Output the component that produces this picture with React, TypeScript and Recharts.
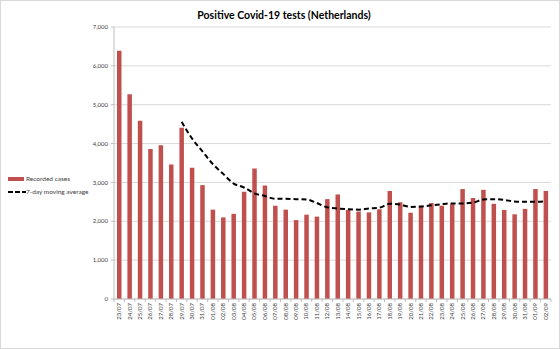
import React from 'react';
import { ComposedChart, Bar, Line, XAxis, YAxis, CartesianGrid } from 'recharts';

const days = [
  '23/07', '24/07', '25/07', '26/07', '27/07', '28/07', '29/07', '30/07', '31/07',
  '01/08', '02/08', '03/08', '04/08', '05/08', '06/08', '07/08', '08/08', '09/08', '10/08',
  '11/08', '12/08', '13/08', '14/08', '15/08', '16/08', '17/08', '18/08', '19/08', '20/08',
  '21/08', '22/08', '23/08', '24/08', '25/08', '26/08', '27/08', '28/08', '29/08', '30/08',
  '31/08', '01/09', '02/09',
];

const recordedCases = [
  6390, 5270, 4590, 3860, 3960, 3460, 4410, 3380, 2930,
  2300, 2100, 2190, 2760, 3360, 2920, 2400, 2300, 2030, 2170,
  2120, 2570, 2690, 2290, 2250, 2230, 2310, 2780, 2490, 2220,
  2400, 2470, 2400, 2440, 2830, 2600, 2810, 2450, 2290, 2180,
  2320, 2830, 2780,
];

const movingAverage = [
  null, null, null, null, null, null, 4560, 4130, 3800,
  3470, 3220, 2970, 2870, 2720, 2650, 2580, 2580, 2570, 2560,
  2470, 2360, 2330, 2310, 2300, 2330, 2350, 2450, 2430, 2370,
  2380, 2410, 2440, 2460, 2460, 2480, 2560, 2570, 2550, 2510,
  2500, 2500, 2520,
];

const yTicks = [0, 1000, 2000, 3000, 4000, 5000, 6000, 7000];

const data = days.map((d, i) => ({
  day: d,
  cases: recordedCases[i],
  avg: movingAverage[i],
}));

const FONT = 'Lato, "Liberation Sans", sans-serif';
const HALF = 5.2;

function DayTick(props: any) {
  const { x, y, payload, index } = props;
  return (
    <g>
      <line x1={x - HALF} x2={x - HALF} y1={y} y2={y + 3} stroke="#bfbfbf" />
      {index === days.length - 1 && (
        <line x1={x + HALF} x2={x + HALF} y1={y} y2={y + 3} stroke="#bfbfbf" />
      )}
      <text
        x={x + 2}
        y={y + 4}
        transform={`rotate(-90, ${x + 2}, ${y + 4})`}
        textAnchor="end"
        fontSize={6}
        fill="#404040"
        fontFamily={FONT}
      >
        {payload.value}
      </text>
    </g>
  );
}

function LegendBox() {
  const row = { display: 'flex', alignItems: 'center', height: 13, fontSize: 6.5, color: '#404040' } as const;
  return (
    <div style={{ position: 'absolute', left: 8, top: 172, fontFamily: FONT }}>
      <div style={row}>
        <span style={{ display: 'inline-block', width: 16, height: 4, background: '#c0504d', marginRight: 2 }} />
        Recorded cases
      </div>
      <div style={row}>
        <svg width={18} height={4}>
          <line x1={0} x2={18} y1={2} y2={2} stroke="#000" strokeWidth={2} strokeDasharray="5 2" />
        </svg>
        7-day moving average
      </div>
    </div>
  );
}

export default function App() {
  return (
    <div style={{ position: 'absolute', left: 0, top: 0, width: 560, height: 349, background: '#fff' }}>
      <div
        style={{
          position: 'absolute',
          left: 0,
          width: 560,
          top: 9,
          textAlign: 'center',
          fontFamily: FONT,
          fontWeight: 700,
          fontSize: 10.5,
          color: '#000',
          paddingLeft: 4,
        }}
      >
        Positive Covid-19 tests (Netherlands)
      </div>
      <ComposedChart
        width={560}
        height={349}
        data={data}
        margin={{ top: 27, right: 9, bottom: 25, left: 0 }}
        barSize={4.5}
      >
        <CartesianGrid vertical={false} stroke="#d9d9d9" />
        <XAxis
          dataKey="day"
          interval={0}
          tickLine={false}
          tickSize={0}
          tickMargin={0}
          height={25}
          stroke="#bfbfbf"
          tick={<DayTick />}
        />
        <YAxis
          width={114}
          domain={[0, 7000]}
          ticks={yTicks}
          tickFormatter={(v: number) => v.toLocaleString('en-US')}
          tick={{ fontSize: 6, fill: '#404040', fontFamily: FONT }}
          tickSize={3}
          tickMargin={3}
          stroke="#bfbfbf"
        />
        <Bar dataKey="cases" fill="#c0504d" isAnimationActive={false} />
        <Line
          dataKey="avg"
          type="monotone"
          stroke="#000"
          strokeWidth={2}
          strokeDasharray="5 3"
          dot={false}
          connectNulls={false}
          isAnimationActive={false}
        />
      </ComposedChart>
      <LegendBox />
      <div
        style={{
          position: 'absolute',
          inset: 0,
          border: '1px solid #d9d9d9',
          pointerEvents: 'none',
        }}
      />
    </div>
  );
}
